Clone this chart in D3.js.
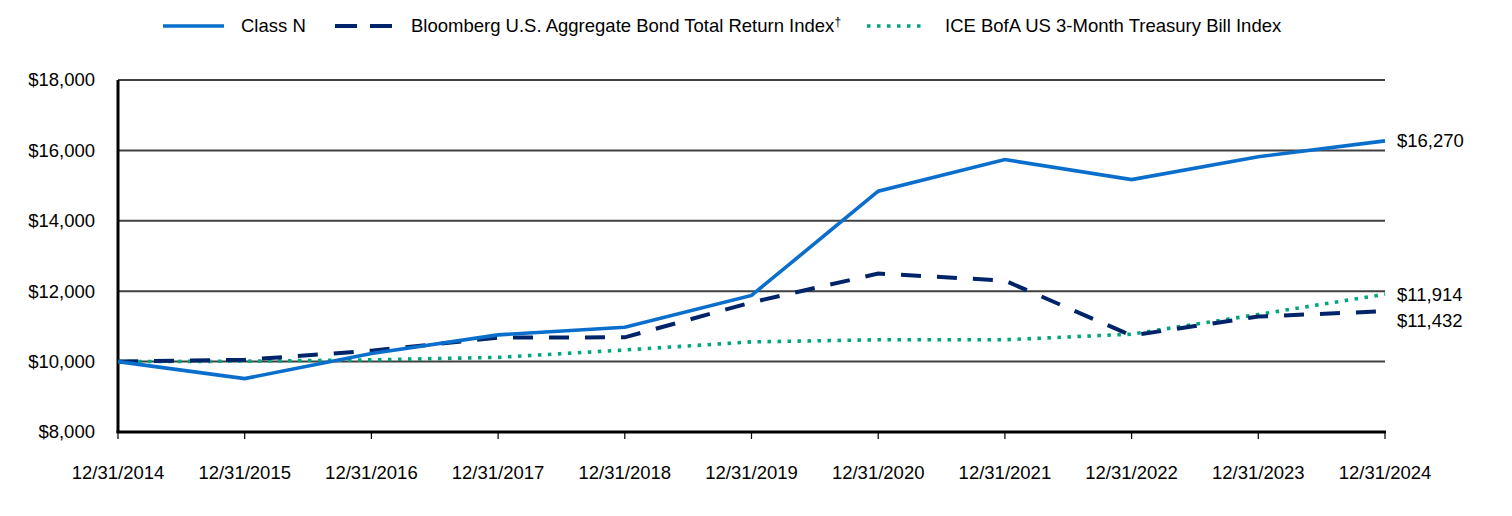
<!DOCTYPE html>
<html><head><meta charset="utf-8">
<script src="https://cdn.jsdelivr.net/npm/d3@7"></script>
<style>body{margin:0;background:#fff;}svg{display:block;font-family:"Liberation Sans",Arial,sans-serif;}</style>
</head><body><svg id="c" width="1512" height="516"></svg>
<script>
const categories = ["12/31/2014","12/31/2015","12/31/2016","12/31/2017","12/31/2018","12/31/2019","12/31/2020","12/31/2021","12/31/2022","12/31/2023","12/31/2024"];
const classN = [10000,9517,10230,10760,10975,11880,14840,15740,15170,15820,16270];
const bloomberg = [10000,10050,10310,10680,10690,11680,12500,12300,10740,11280,11432];
const ice = [10000,10010,10050,10120,10330,10560,10620,10620,10780,11340,11914];
const yTicks = [8000,10000,12000,14000,16000,18000];
const seriesNames = ["Class N","Bloomberg U.S. Aggregate Bond Total Return Index","ICE BofA US 3-Month Treasury Bill Index"];
const endLabels = ["$16,270","$11,432","$11,914"];

const FS = 18.5;
const svg = d3.select("#c");
const x = d3.scalePoint().domain(categories).range([118,1385]);
const y = d3.scaleLinear().domain([8000,18000]).range([432,80]);

// gridlines
svg.append("g").selectAll("line").data(yTicks.filter(d=>d>8000)).join("line")
  .attr("x1",118).attr("x2",1385).attr("y1",d=>y(d)).attr("y2",d=>y(d))
  .attr("stroke","#404040").attr("stroke-width",2);

// y axis labels
const fmt = d=>"$"+d3.format(",")(d);
svg.append("g").selectAll("text").data(yTicks).join("text")
  .attr("x",95).attr("y",d=>y(d)).attr("dy","0.35em").attr("text-anchor","end")
  .attr("font-size",FS).attr("fill","#000").text(fmt);

// axes
svg.append("line").attr("x1",118).attr("x2",118).attr("y1",80).attr("y2",433).attr("stroke","#000").attr("stroke-width",3);
svg.append("line").attr("x1",116.5).attr("x2",1386).attr("y1",432).attr("y2",432).attr("stroke","#000").attr("stroke-width",3);
svg.append("g").selectAll("line").data(categories).join("line")
  .attr("x1",d=>x(d)).attr("x2",d=>x(d)).attr("y1",432).attr("y2",439)
  .attr("stroke","#000").attr("stroke-width",1.2);
svg.append("g").selectAll("text").data(categories).join("text")
  .attr("x",d=>x(d)).attr("y",473).attr("dy","0.35em").attr("text-anchor","middle")
  .attr("font-size",FS).attr("fill","#000").text(d=>d);

const line = d3.line().x((d,i)=>x(categories[i])).y(d=>y(d));
const styles = [
  {data:ice, color:"#00A67E", dash:"3.5,6.5", w:3.6},
  {data:bloomberg, color:"#002469", dash:"20,16", w:4},
  {data:classN, color:"#0A6FCC", dash:null, w:3.6}
];
styles.forEach(s=>{
  svg.append("path").datum(s.data).attr("d",line).attr("fill","none")
    .attr("stroke",s.color).attr("stroke-width",s.w)
    .attr("stroke-dasharray",s.dash).attr("stroke-linejoin","miter");
});

// end labels
const endY = [y(classN[10]), y(bloomberg[10])+9, y(ice[10])];
endLabels.forEach((t,i)=>{
  svg.append("text").attr("x",1397).attr("y",endY[i]).attr("dy","0.35em")
    .attr("font-size",FS).attr("fill","#000").text(t);
});

// legend
const lg = svg.append("g");
lg.append("line").attr("x1",163).attr("x2",224).attr("y1",26).attr("y2",26).attr("stroke","#0A6FCC").attr("stroke-width",3.6);
lg.append("text").attr("x",241).attr("y",26).attr("dy","0.35em").attr("font-size",FS).text(seriesNames[0]);
lg.append("line").attr("x1",335).attr("x2",392).attr("y1",26).attr("y2",26).attr("stroke","#002469").attr("stroke-width",4).attr("stroke-dasharray","22,13");
const t2 = lg.append("text").attr("x",411).attr("y",26).attr("dy","0.35em").attr("font-size",FS).text(seriesNames[1]);
t2.append("tspan").attr("dy","-0.55em").attr("font-size",12).text("†");
lg.append("line").attr("x1",867).attr("x2",921).attr("y1",26).attr("y2",26).attr("stroke","#00A67E").attr("stroke-width",3.6).attr("stroke-dasharray","3.5,6.5");
lg.append("text").attr("x",945).attr("y",26).attr("dy","0.35em").attr("font-size",FS).text(seriesNames[2]);
</script></body></html>
